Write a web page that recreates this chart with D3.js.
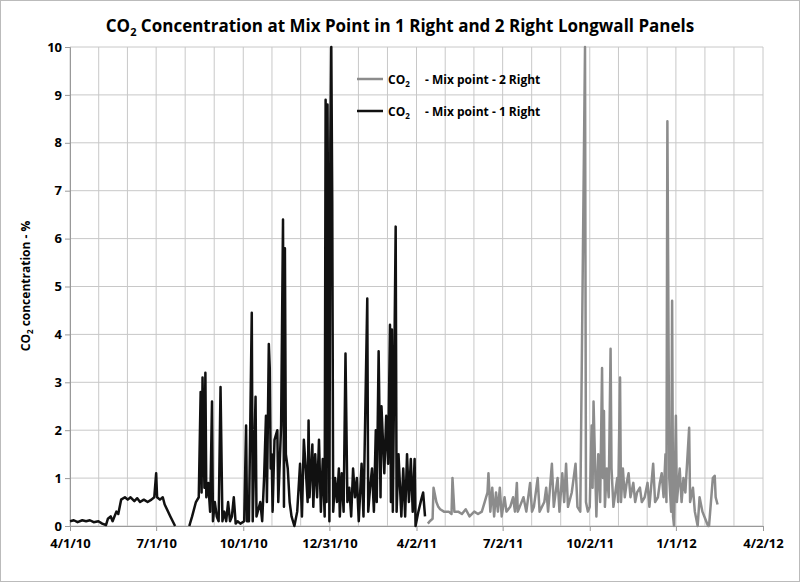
<!DOCTYPE html><html><head><meta charset="utf-8"><script src="https://cdn.jsdelivr.net/npm/d3@7"></script>
<style>body{margin:0;background:#fff}text{font-family:"Open Sans",sans-serif;font-weight:bold}</style></head><body><svg id="c" width="800" height="582"></svg>
<script>
const startDate = new Date(2010,3,1);
const tickLabels = ["4/1/10","7/1/10","10/1/10","12/31/10","4/2/11","7/2/11","10/2/11","1/1/12","4/2/12"];
const yTicks = [0,1,2,3,4,5,6,7,8,9,10];
// [days after 4/1/10, CO2 %]
const series1Right = [[0,.1],[4,.12],[8,.08],[13,.12],[17,.1],[21,.12],[25,.08],[30,.1],[34,.05],[38,.02],[40,.15],[43,.2],[45,.1],[49,.3],[51,.25],[54,.55],[58,.6],[61,.55],[64,.6],[68,.52],[71,.58],[74,.5],[78,.55],[82,.5],[86,.55],[89,.6],[91,1.1],[92,.6],[95,.55],[98,.6],[100,.45],[106,.2],[111,0],null,
[126,0],[129,.2],[133,.5],[136,.6],[138,2.8],[139,.7],[140,3.1],[142,.8],[143,3.2],[144,.6],[146,.9],[148,.3],[150,2.6],[151,.1],[153,.5],[155,.2],[157,.1],[159,2.9],[161,.1],[163,.3],[165,.1],[167,.5],[169,.1],[171,.2],[173,.6],[175,.05],[177,.1],[180,.05],[184,.1],[186,2.1],[187,.1],[189,.1],[192,4.45],[193,.1],[196,2.7],[197,.2],[201,.5],[203,.1],[205,1.0],[207,2.3],[208,.5],[210,3.8],[211,3.3],[212,1.2],[213,1.5],[214,.3],[216,1.8],[219,2.0],[220,.5],[223,2.1],[225,6.4],[226,.4],[227,5.8],[228,1.5],[230,1.2],[232,.5],[234,.2],[237,0],[240,.3],[243,1.3],[245,.2],[247,1.8],[249,1.2],[251,.5],[252,2.2],[253,.6],[256,1.7],[257,.4],[259,1.5],[261,.6],[263,1.8],[265,.3],[267,1.4],[269,.2],[270,8.9],[271,.5],[272,8.8],[274,.1],[275,8.0],[276,10],[277,6.8],[278,.3],[280,1.0],[282,.5],[284,1.2],[285,.2],[287,1.1],[289,.3],[291,3.6],[293,.5],[295,.8],[297,.2],[299,1.2],[301,.6],[303,1.0],[305,.1],[308,1.3],[310,.2],[314,4.75],[315,.3],[317,.8],[319,1.2],[321,.3],[323,2.0],[324,.5],[326,3.65],[328,.6],[329,2.5],[332,1.1],[334,2.3],[336,1.3],[338,4.2],[339,.5],[340,4.1],[341,.3],[344,6.25],[345,.3],[347,1.5],[350,.2],[352,1.2],[354,.2],[356,1.5],[358,.5],[360,1.4],[362,.3],[364,1.4],[365,0],[368,.3],[371,.55],[373,.7],[375,.2]];
const series2Right = [[378,.05],[380,.1],[383,.15],[384,.8],[387,.5],[389,.4],[391,.35],[395,.3],[400,.3],[403,.25],[404,1.0],[406,.3],[410,.3],[414,.25],[418,.35],[422,.2],[427,.3],[431,.25],[435,.3],[438,.5],[441,.7],[442,1.1],[444,.3],[446,.8],[448,.2],[450,.7],[452,.3],[454,.8],[456,.2],[459,.6],[461,.3],[465,.4],[468,.6],[470,.3],[472,.9],[473,.3],[475,.4],[479,.6],[482,.3],[486,.9],[488,.3],[490,.4],[494,1.0],[496,.3],[501,.5],[503,.8],[505,.3],[509,1.3],[511,.4],[515,1.0],[517,.3],[520,1.1],[522,.5],[524,1.3],[526,.4],[530,.7],[534,1.3],[536,.4],[539,.3],[544,10],[545,.5],[547,.3],[549,.4],[551,2.1],[552,.8],[553,2.6],[555,1.0],[556,.2],[558,1.5],[560,.5],[562,3.3],[563,1.0],[564,2.4],[565,.4],[567,1.2],[569,.6],[571,3.7],[572,1.2],[574,.4],[578,1.0],[579,.5],[581,3.1],[582,.5],[584,1.2],[586,.6],[588,.9],[590,1.1],[592,.6],[595,.9],[597,.5],[599,.7],[602,.8],[604,.5],[607,.6],[610,.9],[612,.4],[616,1.3],[618,.5],[621,.6],[623,.9],[625,1.1],[627,.6],[629,1.5],[630,.5],[631,8.45],[633,1.0],[635,.3],[636,4.7],[637,.2],[638,0],[640,2.3],[641,.5],[644,1.2],[646,.5],[648,1.0],[650,.7],[654,2.05],[655,.5],[658,.8],[660,.3],[663,0],[665,.6],[668,.3],[672,.1],[674,0],[675,0],[677,.5],[679,1.0],[681,1.05],[682,.6],[684,.45]];
const legendLabels = ["- Mix point - 2 Right","- Mix point - 1 Right"];

const svg = d3.select("#c");
svg.append("rect").attr("x",.5).attr("y",.5).attr("width",799).attr("height",581).attr("fill","#fff").attr("stroke","#bbb");
const m = {l:70,r:763,t:47,b:526};
const end = new Date(2012,3,2);
const x = d3.scaleTime().domain([startDate,end]).range([m.l,m.r]);
const y = d3.scaleLinear().domain([0,10]).range([m.b,m.t]);
const dayToDate = d => d3.timeDay.offset(startDate,d);
const parse = d3.timeParse("%m/%d/%y");
const tickDates = tickLabels.map(s=>{const [mo,da,yr]=s.split("/");return new Date(2000+ +yr, mo-1, +da);});
// minor grid: thirds between major ticks
const grid = [];
for(let i=0;i<tickDates.length;i++){grid.push(tickDates[i]); if(i<tickDates.length-1){const a=+tickDates[i],b=+tickDates[i+1];grid.push(new Date(a+(b-a)/3),new Date(a+2*(b-a)/3));}}
const g = svg.append("g");
g.selectAll(".vg").data(grid).join("line").attr("x1",d=>x(d)).attr("x2",d=>x(d)).attr("y1",m.t).attr("y2",m.b).attr("stroke","#c8c8c8");
g.selectAll(".hg").data(yTicks).join("line").attr("x1",m.l).attr("x2",m.r).attr("y1",d=>y(d)).attr("y2",d=>y(d)).attr("stroke","#c8c8c8");
const xa = svg.append("g").attr("transform",`translate(0,${m.b})`).call(d3.axisBottom(x).tickValues(tickDates).tickFormat((d,i)=>tickLabels[i]).tickSize(5));
xa.selectAll("text").attr("font-size",13).attr("dy","1.1em").attr("fill","#000");
xa.select(".domain").attr("stroke","#999");
xa.selectAll("line").attr("stroke","#999");
const ya = svg.append("g").attr("transform",`translate(${m.l},0)`).call(d3.axisLeft(y).tickValues(yTicks).tickSize(5));
ya.selectAll("text").attr("font-size",13).attr("fill","#000");
ya.select(".domain").attr("stroke","#999");ya.selectAll("line").attr("stroke","#999");
const line = d3.line().defined(d=>d).x(d=>x(dayToDate(d[0]))).y(d=>y(d[1]));
svg.append("path").attr("d",line(series2Right)).attr("fill","none").attr("stroke","#8c8c8c").attr("stroke-width",2.5).attr("stroke-linejoin","round");
svg.append("path").attr("d",line(series1Right)).attr("fill","none").attr("stroke","#111").attr("stroke-width",2.5).attr("stroke-linejoin","round");
const t = svg.append("text").attr("x",400).attr("y",32).attr("text-anchor","middle").attr("font-size",17);
t.append("tspan").text("CO");t.append("tspan").text("2").attr("font-size",11).attr("dy",4);
t.append("tspan").text(" Concentration at Mix Point in 1 Right and 2 Right Longwall Panels").attr("dy",-4);
const yl = svg.append("text").attr("transform","translate(30,286) rotate(-90)").attr("text-anchor","middle").attr("font-size",12);
yl.append("tspan").text("CO");yl.append("tspan").text("2").attr("font-size",8).attr("dy",3);yl.append("tspan").text(" concentration - %").attr("dy",-3);
const lg = [{c:"#8c8c8c",y:79},{c:"#111",y:111}];
lg.forEach((o,i)=>{
 svg.append("line").attr("x1",357).attr("x2",383).attr("y1",o.y).attr("y2",o.y).attr("stroke",o.c).attr("stroke-width",2.5);
 const tt=svg.append("text").attr("x",388).attr("y",o.y+5).attr("font-size",12);
 tt.append("tspan").text("CO");tt.append("tspan").text("2").attr("font-size",8).attr("dy",3);
 tt.append("tspan").text(legendLabels[i]).attr("x",425).attr("dy",-3);
});
</script></body></html>
